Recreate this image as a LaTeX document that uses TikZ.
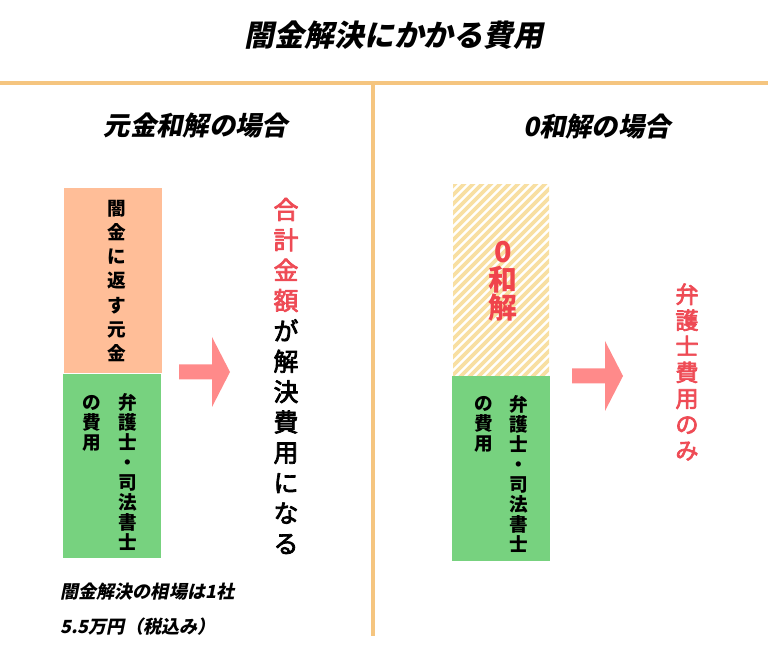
\documentclass[tikz,border=0pt]{standalone}
\usepackage{fontspec}
\setmainfont{Noto Sans CJK JP}
\newfontfamily\slantfont{Noto Sans CJK JP}[BoldFeatures={FakeSlant=0.2},UprightFeatures={FakeSlant=0.2}]
\newfontfamily\mediumfont{Noto Sans CJK JP}[FakeBold=3]
\newfontfamily\blackfont{Noto Sans CJK JP Black}
\definecolor{framecol}{HTML}{F5C57F}
\definecolor{orangecol}{HTML}{FFBE98}
\definecolor{greencol}{HTML}{77D27F}
\definecolor{hatchcol}{HTML}{F8DFA2}
\definecolor{redcol}{HTML}{EE4B55}
\definecolor{arrowcol}{HTML}{FF8A8A}
\tikzset{
	headtext/.style={font=\fontsize{8.5}{10}\slantfont\bfseries},
	subtext/.style={font=\fontsize{7.5}{10}\slantfont\bfseries},
	notetext/.style={font=\fontsize{5.15}{7}\slantfont\bfseries,anchor=west},
	colsmall/.style={font=\fontsize{5.3}{5.69}\selectfont\bfseries,align=center,inner sep=0pt},
	colmoney/.style={font=\fontsize{5.3}{6.88}\selectfont\bfseries,align=center,inner sep=0pt},
	coltotal/.style={font=\fontsize{7.1}{8.64}\mediumfont,align=center,inner sep=0pt},
	colzero/.style={font=\fontsize{8.2}{7.9}\blackfont,align=center,inner sep=0pt,text=redcol!90!red},
	colfee/.style={font=\fontsize{6.6}{7.4}\mediumfont,align=center,inner sep=0pt,text=redcol},
}
\begin{document}
\begin{tikzpicture}[line join=round]
	\useasboundingbox (0,0) rectangle (7.68,-6.59);
	% frame lines
	\draw[framecol,line width=1pt] (0,-0.83) -- (7.68,-0.83);
	\draw[framecol,line width=1pt] (3.73,-0.83) -- (3.73,-6.36);
	% left bar
	\fill[orangecol] (0.64,-1.88) rectangle (1.62,-3.73);
	\fill[greencol] (0.63,-3.74) rectangle (1.61,-5.58);
	% right bar
	\begin{scope}
		\clip (4.53,-1.85) rectangle (5.49,-3.76);
		\foreach \i in {0,...,34}
		\draw[hatchcol,line width=1.1pt] ({2.50+\i*0.09},-3.80) -- ++(2.0,2.0);
	\end{scope}
	\fill[greencol] (4.52,-3.76) rectangle (5.50,-5.61);
	% arrows
	\foreach \ax/\ay in {1.79/-3.72,5.72/-3.76}
	\fill[arrowcol] (\ax,\ay+0.075) -- ++(0.33,0) -- ++(0,0.275) -- ++(0.18,-0.35) -- ++(-0.18,-0.35) -- ++(0,0.275) -- ++(-0.33,0) -- cycle;
	% texts
	\node[headtext] (title) at (3.94,-0.35) {闇金解決にかかる費用};
	\node[subtext] (lefthead) at (1.96,-1.25) {元金和解の場合};
	\node[subtext] (righthead) at (5.97,-1.27) {0和解の場合};
	\node[colmoney] (money) at (1.17,-2.81) {闇\\金\\に\\返\\す\\元\\金};
	\node[colsmall] (leftfee) at (1.28,-4.72) {弁\\護\\士\\・\\司\\法\\書\\士};
	\node[colsmall] (leftfeeb) at (0.92,-4.23) {の\\費\\用};
	\node[coltotal] (total) at (2.86,-3.76) {\textcolor{redcol}{合}\\\textcolor{redcol}{計}\\\textcolor{redcol}{金}\\\textcolor{redcol}{額}\\が\\解\\決\\費\\用\\に\\な\\る};
	\node[colzero] (zero) at (5.03,-2.81) {0\\和\\解};
	\node[colsmall] (rightfee) at (5.19,-4.74) {弁\\護\\士\\・\\司\\法\\書\\士};
	\node[colsmall] (rightfeeb) at (4.84,-4.24) {の\\費\\用};
	\node[colfee] (feeonly) at (6.87,-3.72) {弁\\護\\士\\費\\用\\の\\み};
	\node[notetext] (noteone) at (0.48,-5.92) {闇金解決の相場は1社};
	\node[notetext] (notetwo) at (0.48,-6.27) {5.5万円（税込み）};
\end{tikzpicture}
\end{document}
